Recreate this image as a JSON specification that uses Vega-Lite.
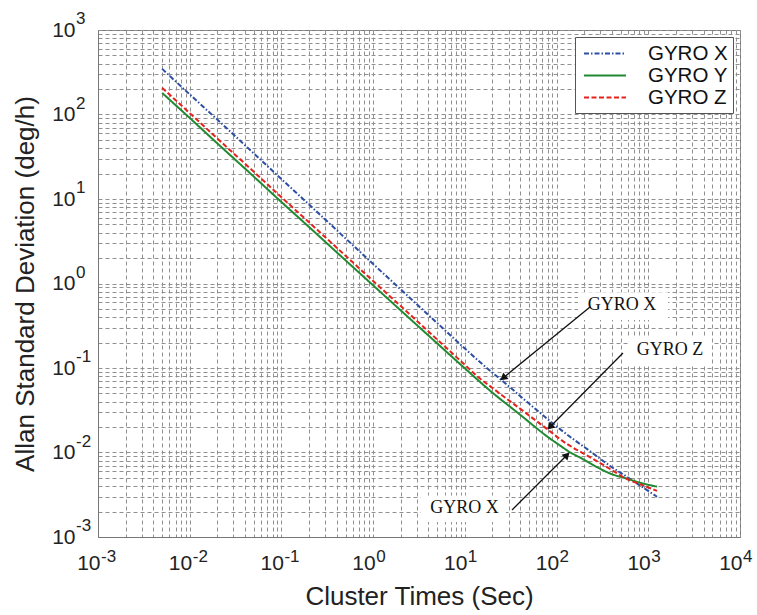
{
  "$schema": "https://vega.github.io/schema/vega-lite/v6.json",
  "width": 642,
  "height": 507,
  "autosize": {"type": "none"},
  "padding": {"left": 98, "top": 30, "right": 17, "bottom": 78},
  "background": "white",
  "config": {
    "view": {"stroke": "#777", "strokeWidth": 1},
    "axis": {
      "labelFont": "Liberation Sans",
      "labelFontSize": 21,
      "labelColor": "#222",
      "titleFont": "Liberation Sans",
      "titleFontSize": 26,
      "titleFontWeight": "normal",
      "titleColor": "#222",
      "grid": true,
      "gridColor": "#909090",
      "gridDash": [4, 3],
      "gridWidth": 1,
      "ticks": false,
      "domainColor": "#777",
      "labelOverlap": false,
      "labelFlush": false,
      "labelBound": false
    },
    "legend": {
      "orient": "top-right",
      "offset": 7,
      "symbolType": "M-2,0L2,0",
      "symbolSize": 441,
      "symbolStrokeWidth": 2,
      "symbolOffset": 13.5,
      "labelFont": "Liberation Sans",
      "labelFontSize": 20.5,
      "labelColor": "#111",
      "strokeColor": "#555",
      "fillColor": "white",
      "padding": 5,
      "rowPadding": 0,
      "labelOffset": 31.5
    }
  },
  "datasets": {
    "curves": [
      {"series": "GYRO X", "t": 0.005, "adev": 347},
      {"series": "GYRO X", "t": 0.01, "adev": 173},
      {"series": "GYRO X", "t": 0.02, "adev": 87},
      {"series": "GYRO X", "t": 0.05, "adev": 34.6},
      {"series": "GYRO X", "t": 0.1, "adev": 17.2},
      {"series": "GYRO X", "t": 0.2, "adev": 8.6},
      {"series": "GYRO X", "t": 0.5, "adev": 3.42},
      {"series": "GYRO X", "t": 1, "adev": 1.7},
      {"series": "GYRO X", "t": 2, "adev": 0.85},
      {"series": "GYRO X", "t": 5, "adev": 0.34},
      {"series": "GYRO X", "t": 10, "adev": 0.17},
      {"series": "GYRO X", "t": 14.7, "adev": 0.117},
      {"series": "GYRO X", "t": 30, "adev": 0.061},
      {"series": "GYRO X", "t": 50, "adev": 0.038},
      {"series": "GYRO X", "t": 85, "adev": 0.0235},
      {"series": "GYRO X", "t": 109, "adev": 0.0189},
      {"series": "GYRO X", "t": 250, "adev": 0.00975},
      {"series": "GYRO X", "t": 383, "adev": 0.00693},
      {"series": "GYRO X", "t": 587, "adev": 0.00514},
      {"series": "GYRO X", "t": 1247, "adev": 0.00299},
      {"series": "GYRO Y", "t": 0.005, "adev": 180},
      {"series": "GYRO Y", "t": 0.01, "adev": 91},
      {"series": "GYRO Y", "t": 0.02, "adev": 45.5},
      {"series": "GYRO Y", "t": 0.05, "adev": 18.4},
      {"series": "GYRO Y", "t": 0.1, "adev": 9.2},
      {"series": "GYRO Y", "t": 0.2, "adev": 4.66},
      {"series": "GYRO Y", "t": 0.5, "adev": 1.88},
      {"series": "GYRO Y", "t": 1, "adev": 0.95},
      {"series": "GYRO Y", "t": 2, "adev": 0.48},
      {"series": "GYRO Y", "t": 5, "adev": 0.195},
      {"series": "GYRO Y", "t": 10, "adev": 0.099},
      {"series": "GYRO Y", "t": 20, "adev": 0.051},
      {"series": "GYRO Y", "t": 37, "adev": 0.03},
      {"series": "GYRO Y", "t": 85, "adev": 0.0146},
      {"series": "GYRO Y", "t": 109, "adev": 0.0121},
      {"series": "GYRO Y", "t": 130, "adev": 0.0106},
      {"series": "GYRO Y", "t": 200, "adev": 0.0082},
      {"series": "GYRO Y", "t": 300, "adev": 0.0064},
      {"series": "GYRO Y", "t": 383, "adev": 0.00565},
      {"series": "GYRO Y", "t": 587, "adev": 0.0049},
      {"series": "GYRO Y", "t": 878, "adev": 0.0043},
      {"series": "GYRO Y", "t": 1247, "adev": 0.00395},
      {"series": "GYRO Z", "t": 0.005, "adev": 207},
      {"series": "GYRO Z", "t": 0.01, "adev": 104},
      {"series": "GYRO Z", "t": 0.02, "adev": 52},
      {"series": "GYRO Z", "t": 0.05, "adev": 21},
      {"series": "GYRO Z", "t": 0.1, "adev": 10.5},
      {"series": "GYRO Z", "t": 0.2, "adev": 5.3},
      {"series": "GYRO Z", "t": 0.5, "adev": 2.13},
      {"series": "GYRO Z", "t": 1, "adev": 1.07},
      {"series": "GYRO Z", "t": 2, "adev": 0.54},
      {"series": "GYRO Z", "t": 5, "adev": 0.217},
      {"series": "GYRO Z", "t": 10, "adev": 0.109},
      {"series": "GYRO Z", "t": 13.6, "adev": 0.08},
      {"series": "GYRO Z", "t": 20, "adev": 0.058},
      {"series": "GYRO Z", "t": 50, "adev": 0.0275},
      {"series": "GYRO Z", "t": 85, "adev": 0.0178},
      {"series": "GYRO Z", "t": 109, "adev": 0.0144},
      {"series": "GYRO Z", "t": 250, "adev": 0.0084},
      {"series": "GYRO Z", "t": 383, "adev": 0.00638},
      {"series": "GYRO Z", "t": 587, "adev": 0.00486},
      {"series": "GYRO Z", "t": 878, "adev": 0.00408},
      {"series": "GYRO Z", "t": 1247, "adev": 0.00351}
    ],
    "xexp": [
      {"v": 0.001, "e": "-3"}, {"v": 0.01, "e": "-2"}, {"v": 0.1, "e": "-1"}, {"v": 1, "e": "0"},
      {"v": 10, "e": "1"}, {"v": 100, "e": "2"}, {"v": 1000, "e": "3"}, {"v": 10000, "e": "4"}
    ],
    "yexp": [
      {"v": 0.001, "e": "-3"}, {"v": 0.01, "e": "-2"}, {"v": 0.1, "e": "-1"}, {"v": 1, "e": "0"},
      {"v": 10, "e": "1"}, {"v": 100, "e": "2"}, {"v": 1000, "e": "3"}
    ],
    "boxes": [
      {"x1": 171, "x2": 1644, "y1": 0.79, "y2": 0.37},
      {"x1": 601, "x2": 4955, "y1": 0.233, "y2": 0.1087},
      {"x1": 3.3, "x2": 28, "y1": 0.0031, "y2": 0.00151}
    ],
    "arrows": [
      {"id": "a1", "x1": 231.7, "y1": 0.527, "x2": 26.1, "y2": 0.0762},
      {"id": "a2", "x1": 530, "y1": 0.1507, "x2": 84.8, "y2": 0.02004},
      {"id": "a3", "x1": 32.7, "y1": 0.00209, "x2": 130, "y2": 0.00933}
    ],
    "notes": [
      {"label": "GYRO X", "x": 517.6, "y": 0.551},
      {"label": "GYRO Z", "x": 1730, "y": 0.162},
      {"label": "GYRO X", "x": 9.93, "y": 0.00221}
    ]
  },
  "layer": [
    {
      "data": {"name": "curves"},
      "mark": {"type": "line", "strokeWidth": 2, "interpolate": "monotone"},
      "encoding": {
        "x": {
          "field": "t",
          "type": "quantitative",
          "scale": {"type": "log", "domain": [0.001, 10000], "nice": false},
          "axis": {
            "title": "Cluster Times (Sec)",
            "values": [0.001,0.002,0.003,0.004,0.005,0.006,0.007,0.008,0.009,0.01,0.02,0.03,0.04,0.05,0.06,0.07,0.08,0.09,0.1,0.2,0.3,0.4,0.5,0.6,0.7,0.8,0.9,1,2,3,4,5,6,7,8,9,10,20,30,40,50,60,70,80,90,100,200,300,400,500,600,700,800,900,1000,2000,3000,4000,5000,6000,7000,8000,9000,10000],
            "labelExpr": "abs(log(datum.value)/LN10 - round(log(datum.value)/LN10)) < 0.01 ? '10' : ''",
            "labelAlign": "right",
            "labelOffset": 2,
            "labelPadding": 15,
            "titlePadding": 10
          }
        },
        "y": {
          "field": "adev",
          "type": "quantitative",
          "scale": {"type": "log", "domain": [0.001, 1000], "nice": false},
          "axis": {
            "title": "Allan Standard Deviation (deg/h)",
            "values": [0.001,0.002,0.003,0.004,0.005,0.006,0.007,0.008,0.009,0.01,0.02,0.03,0.04,0.05,0.06,0.07,0.08,0.09,0.1,0.2,0.3,0.4,0.5,0.6,0.7,0.8,0.9,1,2,3,4,5,6,7,8,9,10,20,30,40,50,60,70,80,90,100,200,300,400,500,600,700,800,900,1000],
            "labelExpr": "abs(log(datum.value)/LN10 - round(log(datum.value)/LN10)) < 0.01 ? '10' : ''",
            "labelPadding": 23,
            "titlePadding": 13
          }
        },
        "color": {
          "field": "series",
          "type": "nominal",
          "scale": {"domain": ["GYRO X", "GYRO Y", "GYRO Z"], "range": ["#2d4fa3", "#1f8a32", "#e3231c"]},
          "legend": {"title": null}
        },
        "strokeDash": {
          "field": "series",
          "type": "nominal",
          "scale": {"domain": ["GYRO X", "GYRO Y", "GYRO Z"], "range": [[5, 2, 1.5, 2], [1, 0], [5, 2.5]]},
          "legend": {"title": null}
        }
      }
    },
    {
      "data": {"name": "xexp"},
      "mark": {"type": "text", "font": "Liberation Sans", "fontSize": 17, "color": "#222", "align": "left", "baseline": "alphabetic", "dx": 3, "dy": 25},
      "encoding": {
        "x": {"field": "v", "type": "quantitative", "scale": {"type": "log", "domain": [0.001, 10000], "nice": false}},
        "y": {"datum": 0.001, "type": "quantitative", "scale": {"type": "log", "domain": [0.001, 1000], "nice": false}},
        "text": {"field": "e"}
      }
    },
    {
      "data": {"name": "yexp"},
      "mark": {"type": "text", "font": "Liberation Sans", "fontSize": 17, "color": "#222", "align": "left", "baseline": "alphabetic", "dx": -22, "dy": -6},
      "encoding": {
        "x": {"datum": 0.001, "type": "quantitative", "scale": {"type": "log", "domain": [0.001, 10000], "nice": false}},
        "y": {"field": "v", "type": "quantitative", "scale": {"type": "log", "domain": [0.001, 1000], "nice": false}},
        "text": {"field": "e"}
      }
    },
    {
      "data": {"name": "boxes"},
      "mark": {"type": "rect", "fill": "white"},
      "encoding": {
        "x": {"field": "x1", "type": "quantitative", "scale": {"type": "log", "domain": [0.001, 10000], "nice": false}},
        "x2": {"field": "x2"},
        "y": {"field": "y1", "type": "quantitative", "scale": {"type": "log", "domain": [0.001, 1000], "nice": false}},
        "y2": {"field": "y2"}
      }
    },
    {
      "data": {"name": "arrows"},
      "mark": {"type": "rule", "color": "#111", "strokeWidth": 1.3},
      "encoding": {
        "x": {"field": "x1", "type": "quantitative", "scale": {"type": "log", "domain": [0.001, 10000], "nice": false}},
        "x2": {"field": "x2"},
        "y": {"field": "y1", "type": "quantitative", "scale": {"type": "log", "domain": [0.001, 1000], "nice": false}},
        "y2": {"field": "y2"}
      }
    },
    {
      "data": {"name": "arrows"},
      "transform": [{"filter": "datum.id == 'a1'"}],
      "mark": {"type": "point", "shape": "triangle-up", "filled": true, "color": "#111", "size": 70, "angle": 231, "opacity": 1},
      "encoding": {
        "x": {"field": "x2", "type": "quantitative", "scale": {"type": "log", "domain": [0.001, 10000], "nice": false}},
        "y": {"field": "y2", "type": "quantitative", "scale": {"type": "log", "domain": [0.001, 1000], "nice": false}}
      }
    },
    {
      "data": {"name": "arrows"},
      "transform": [{"filter": "datum.id == 'a2'"}],
      "mark": {"type": "point", "shape": "triangle-up", "filled": true, "color": "#111", "size": 70, "angle": 225, "opacity": 1},
      "encoding": {
        "x": {"field": "x2", "type": "quantitative", "scale": {"type": "log", "domain": [0.001, 10000], "nice": false}},
        "y": {"field": "y2", "type": "quantitative", "scale": {"type": "log", "domain": [0.001, 1000], "nice": false}}
      }
    },
    {
      "data": {"name": "arrows"},
      "transform": [{"filter": "datum.id == 'a3'"}],
      "mark": {"type": "point", "shape": "triangle-up", "filled": true, "color": "#111", "size": 70, "angle": 45, "opacity": 1},
      "encoding": {
        "x": {"field": "x2", "type": "quantitative", "scale": {"type": "log", "domain": [0.001, 10000], "nice": false}},
        "y": {"field": "y2", "type": "quantitative", "scale": {"type": "log", "domain": [0.001, 1000], "nice": false}}
      }
    },
    {
      "data": {"name": "notes"},
      "mark": {"type": "text", "font": "Liberation Serif", "fontSize": 18, "color": "#111", "align": "center", "baseline": "middle"},
      "encoding": {
        "x": {"field": "x", "type": "quantitative", "scale": {"type": "log", "domain": [0.001, 10000], "nice": false}},
        "y": {"field": "y", "type": "quantitative", "scale": {"type": "log", "domain": [0.001, 1000], "nice": false}},
        "text": {"field": "label"}
      }
    }
  ]
}
